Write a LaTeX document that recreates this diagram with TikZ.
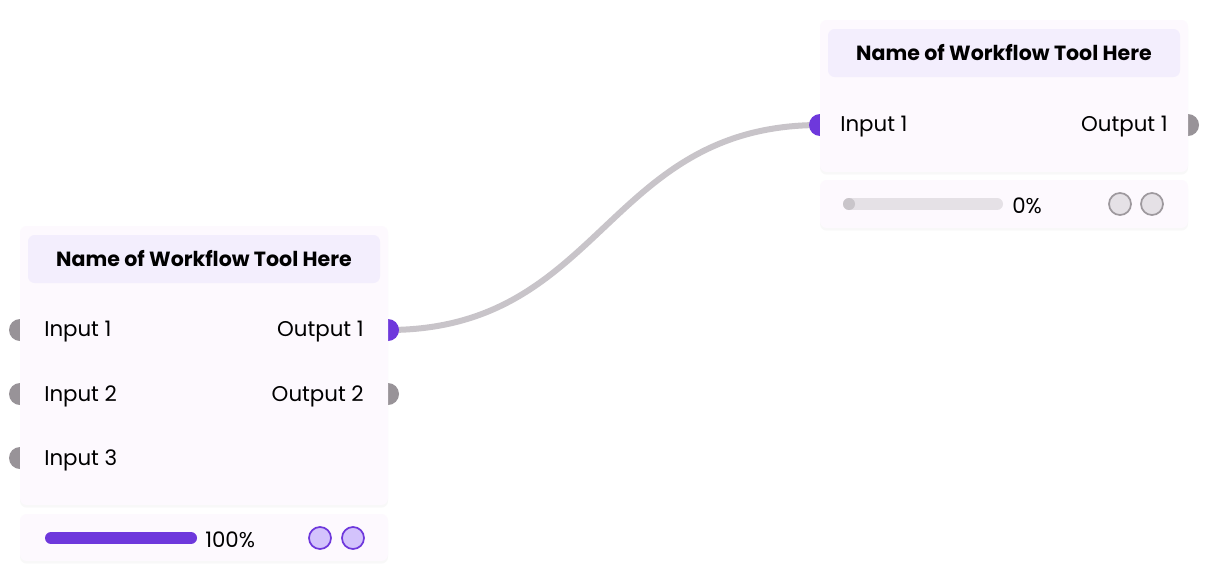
\documentclass[tikz,border=0pt]{standalone}
\usepackage{fontspec}
\setmainfont{Poppins}
\usepackage{tikz}
\usetikzlibrary{shadows,positioning}
\definecolor{cardfill}{HTML}{FDF9FE}
\definecolor{titlefill}{HTML}{F3EEFD}
\definecolor{violet}{HTML}{6E38DC}
\definecolor{portgrey}{HTML}{989398}
\definecolor{lilac}{HTML}{D3C3FC}
\definecolor{wire}{HTML}{C8C4C9}
\definecolor{track}{HTML}{E5E1E6}
\definecolor{dotgrey}{HTML}{C9C5CA}
\definecolor{ringgrey}{HTML}{9E999E}
\pgfdeclarelayer{paper}
\pgfdeclarelayer{edges}
\pgfsetlayers{paper,edges,main}
\tikzstyle{card}=[fill=cardfill, draw=none, rounded corners=5pt, inner sep=0pt,
        minimum width=276pt, drop shadow={opacity=0.05, shadow xshift=0pt,
        shadow yshift=-2pt, shadow scale=1}]
\tikzstyle{title}=[fill=titlefill, rounded corners=5pt, minimum width=264pt,
        minimum height=36pt, font=\fontsize{15.4}{18}\selectfont\bfseries]
\tikzstyle{label}=[font=\fontsize{16}{19}\selectfont, inner sep=0pt]
\tikzstyle{port}=[shape=circle, minimum size=16.5pt, inner sep=0pt]
\tikzstyle{port on}=[port, fill=violet]
\tikzstyle{port off}=[port, fill=portgrey]
\tikzstyle{ring on}=[shape=circle, minimum size=16.5pt, inner sep=0pt,
        fill=lilac, draw=violet, line width=1.3pt]
\tikzstyle{ring off}=[shape=circle, minimum size=16.5pt, inner sep=0pt,
        fill=track, draw=ringgrey, line width=1.3pt]
\tikzstyle{wire edge}=[-, draw=wire, line width=4.5pt]
\tikzstyle{bar}=[line width=9pt, line cap=round]

\begin{document}
\begin{tikzpicture}[x=0.75pt, y=-0.75pt]
    \begin{pgfonlayer}{paper}
        \fill [white] (0,0) rectangle (1209,582);
    \end{pgfonlayer}
    \useasboundingbox (0,0) rectangle (1209,582);

    % ports of the first tool
    \node [style=port off] (1) at (20, 330) {};
    \node [style=port off] (2) at (20, 394) {};
    \node [style=port off] (3) at (20, 458) {};
    \node [style=port on] (4) at (388, 330) {};
    \node [style=port off] (5) at (388, 394) {};

    % ports of the second tool
    \node [style=port on] (11) at (820, 125) {};
    \node [style=port off] (12) at (1188, 125) {};

    \begin{pgfonlayer}{edges}
        \draw [style=wire edge] (4.center) to [out=0, in=180, looseness=1.15] (11.center);
    \end{pgfonlayer}

    % first tool
    \node [style=card, minimum height=209.25pt] (6) at (204, 365.5) {};
    \node [style=title] (7) at (204, 259) {Name of Workflow Tool Here};
    \node [style=label, anchor=west] (21) at (44, 332) {Input 1};
    \node [style=label, anchor=west] (22) at (44, 396) {Input 2};
    \node [style=label, anchor=west] (23) at (44, 460) {Input 3};
    \node [style=label, anchor=east] (24) at (364, 332) {Output 1};
    \node [style=label, anchor=east] (25) at (364, 396) {Output 2};

    \node [style=card, minimum height=35.25pt] (8) at (204, 537.5) {};
    \draw [style=bar, violet] (51, 538) -- (191, 538);
    \node [style=label, anchor=west] (26) at (205, 540) {100\%};
    \node [style=ring on] (27) at (320, 538) {};
    \node [style=ring on] (28) at (353, 538) {};

    % second tool
    \node [style=card, minimum height=114pt] (13) at (1004, 96) {};
    \node [style=title] (14) at (1004, 53) {Name of Workflow Tool Here};
    \node [style=label, anchor=west] (31) at (840, 127) {Input 1};
    \node [style=label, anchor=east] (32) at (1168, 127) {Output 1};

    \node [style=card, minimum height=36pt] (15) at (1004, 204) {};
    \draw [style=bar, track] (849, 204) -- (997, 204);
    \fill [dotgrey] (849, 204) circle (4.5pt);
    \node [style=label, anchor=west] (33) at (1012, 206) {0\%};
    \node [style=ring off] (34) at (1120, 204) {};
    \node [style=ring off] (35) at (1152, 204) {};
\end{tikzpicture}
\end{document}
